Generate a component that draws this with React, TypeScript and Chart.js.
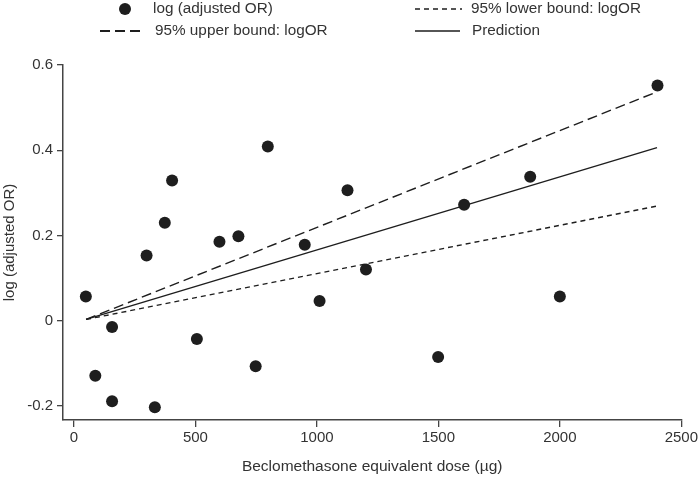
import { useEffect, useRef } from "react";
import { Chart, registerables } from "chart.js";

Chart.register(...registerables);

// ---- data ----
const doseValues = [49, 88, 157, 157, 299, 333, 374, 404, 506, 599, 677, 748, 798, 950, 1011, 1126, 1202, 1499, 1606, 1878, 2000, 2402];
const logOrValues = [0.057, -0.129, -0.015, -0.189, 0.153, -0.203, 0.23, 0.329, -0.043, 0.185, 0.198, -0.107, 0.409, 0.178, 0.046, 0.306, 0.12, -0.085, 0.272, 0.338, 0.057, 0.552];
const lineDose = [50, 2400];
const predictionValues = [0.003, 0.406];
const upperValues = [0.003, 0.537];
const lowerValues = [0.003, 0.269];
const xTickValues = [0, 500, 1000, 1500, 2000, 2500];
const xTickLabels = ["0", "500", "1000", "1500", "2000", "2500"];
const yTickValues = [-0.2, 0, 0.2, 0.4, 0.6];
const yTickLabels = ["-0.2", "0", "0.2", "0.4", "0.6"];
const seriesLabels = ["log (adjusted OR)", "95% lower bound: logOR", "95% upper bound: logOR", "Prediction"];
const xTitle = "Beclomethasone equivalent dose (µg)";
const yTitle = "log (adjusted OR)";

const FONT_FAMILY = "'Liberation Sans', Arial, sans-serif";
const TEXT = "#333333";
const INK = "#1e1e1e";

const legendPlugin = {
  id: "customLegend",
  afterDraw(chart: any) {
    const ctx = chart.ctx as CanvasRenderingContext2D;
    ctx.save();
    ctx.font = `15.3px ${FONT_FAMILY}`;
    ctx.fillStyle = TEXT;
    ctx.textBaseline = "middle";
    ctx.textAlign = "left";
    const r1 = 9;
    const r2 = 31;
    // point
    ctx.beginPath();
    ctx.fillStyle = INK;
    ctx.arc(125, r1, 6, 0, Math.PI * 2);
    ctx.fill();
    ctx.fillStyle = TEXT;
    ctx.fillText(seriesLabels[0], 153, r1);
    // lower bound
    ctx.strokeStyle = INK;
    ctx.lineWidth = 1.6;
    ctx.setLineDash([5, 4]);
    ctx.beginPath();
    ctx.moveTo(415, r1);
    ctx.lineTo(462, r1);
    ctx.stroke();
    ctx.fillText(seriesLabels[1], 471, r1);
    // upper bound
    ctx.lineWidth = 2;
    ctx.setLineDash([10, 5]);
    ctx.beginPath();
    ctx.moveTo(100, r2);
    ctx.lineTo(142, r2);
    ctx.stroke();
    ctx.fillText(seriesLabels[2], 155, r2);
    // prediction
    ctx.lineWidth = 1.4;
    ctx.setLineDash([]);
    ctx.beginPath();
    ctx.moveTo(415, r2);
    ctx.lineTo(460, r2);
    ctx.stroke();
    ctx.fillText(seriesLabels[3], 472, r2);
    ctx.restore();
  },
};

export default function App() {
  const ref = useRef<HTMLCanvasElement | null>(null);

  useEffect(() => {
    if (!ref.current) return;
    const toLine = (ys: number[]) => lineDose.map((x, i) => ({ x, y: ys[i] }));
    const chart = new Chart(ref.current, {
      type: "scatter",
      data: {
        datasets: [
          {
            type: "scatter",
            label: seriesLabels[0],
            data: doseValues.map((x, i) => ({ x, y: logOrValues[i] })),
            pointRadius: 6,
            pointBackgroundColor: INK,
            pointBorderColor: INK,
            pointBorderWidth: 0,
            order: 0,
          } as any,
          {
            type: "line",
            label: seriesLabels[1],
            data: toLine(lowerValues),
            borderColor: INK,
            borderWidth: 1.4,
            borderDash: [5, 4],
            pointRadius: 0,
            fill: false,
            order: 1,
          },
          {
            type: "line",
            label: seriesLabels[2],
            data: toLine(upperValues),
            borderColor: INK,
            borderWidth: 1.4,
            borderDash: [10, 5],
            pointRadius: 0,
            fill: false,
            order: 2,
          },
          {
            type: "line",
            label: seriesLabels[3],
            data: toLine(predictionValues),
            borderColor: INK,
            borderWidth: 1.4,
            pointRadius: 0,
            fill: false,
            order: 3,
          },
        ],
      },
      options: {
        animation: false,
        responsive: false,
        maintainAspectRatio: false,
        layout: { padding: { top: 65, right: 16, left: 0, bottom: 0 } },
        plugins: {
          legend: { display: false },
          tooltip: { enabled: false },
        },
        scales: {
          x: {
            type: "linear",
            min: -45,
            max: 2500,
            afterBuildTicks: (scale: any) => {
              scale.ticks = xTickValues.map((v) => ({ value: v }));
            },
            afterFit: (scale: any) => {
              scale.height = 59;
            },
            grid: { drawOnChartArea: false, drawTicks: true, tickLength: 7, color: "#444", lineWidth: 1.3 },
            border: { display: true, color: "#444", width: 1.5 },
            ticks: {
              padding: 2,
              color: TEXT,
              font: { family: FONT_FAMILY, size: 15 },
              maxRotation: 0,
              callback: (v: any) => {
                const i = xTickValues.indexOf(Number(v));
                return i >= 0 ? xTickLabels[i] : "";
              },
            },
            title: {
              display: true,
              text: xTitle,
              color: TEXT,
              font: { family: FONT_FAMILY, size: 15.5 },
              padding: { top: 0, bottom: 3 },
            },
          },
          y: {
            type: "linear",
            min: -0.233,
            max: 0.6,
            afterBuildTicks: (scale: any) => {
              scale.ticks = yTickValues.map((v) => ({ value: v }));
            },
            afterFit: (scale: any) => {
              scale.width = 63;
            },
            grid: { drawOnChartArea: false, drawTicks: true, tickLength: 6, color: "#444", lineWidth: 1.3 },
            border: { display: true, color: "#444", width: 1.5 },
            ticks: {
              padding: 4,
              color: TEXT,
              font: { family: FONT_FAMILY, size: 15 },
              callback: (v: any) => {
                const i = yTickValues.indexOf(Number(v));
                return i >= 0 ? yTickLabels[i] : "";
              },
            },
            title: {
              display: true,
              text: yTitle,
              color: TEXT,
              font: { family: FONT_FAMILY, size: 15 },
              padding: { top: 1, bottom: 0 },
            },
          },
        },
      },
      plugins: [legendPlugin],
    });
    return () => chart.destroy();
  }, []);

  return (
    <div style={{ position: "absolute", left: 0, top: 0, width: 700, height: 479, background: "#fff" }}>
      <canvas ref={ref} width={700} height={479} style={{ width: 700, height: 479, display: "block" }} />
    </div>
  );
}
